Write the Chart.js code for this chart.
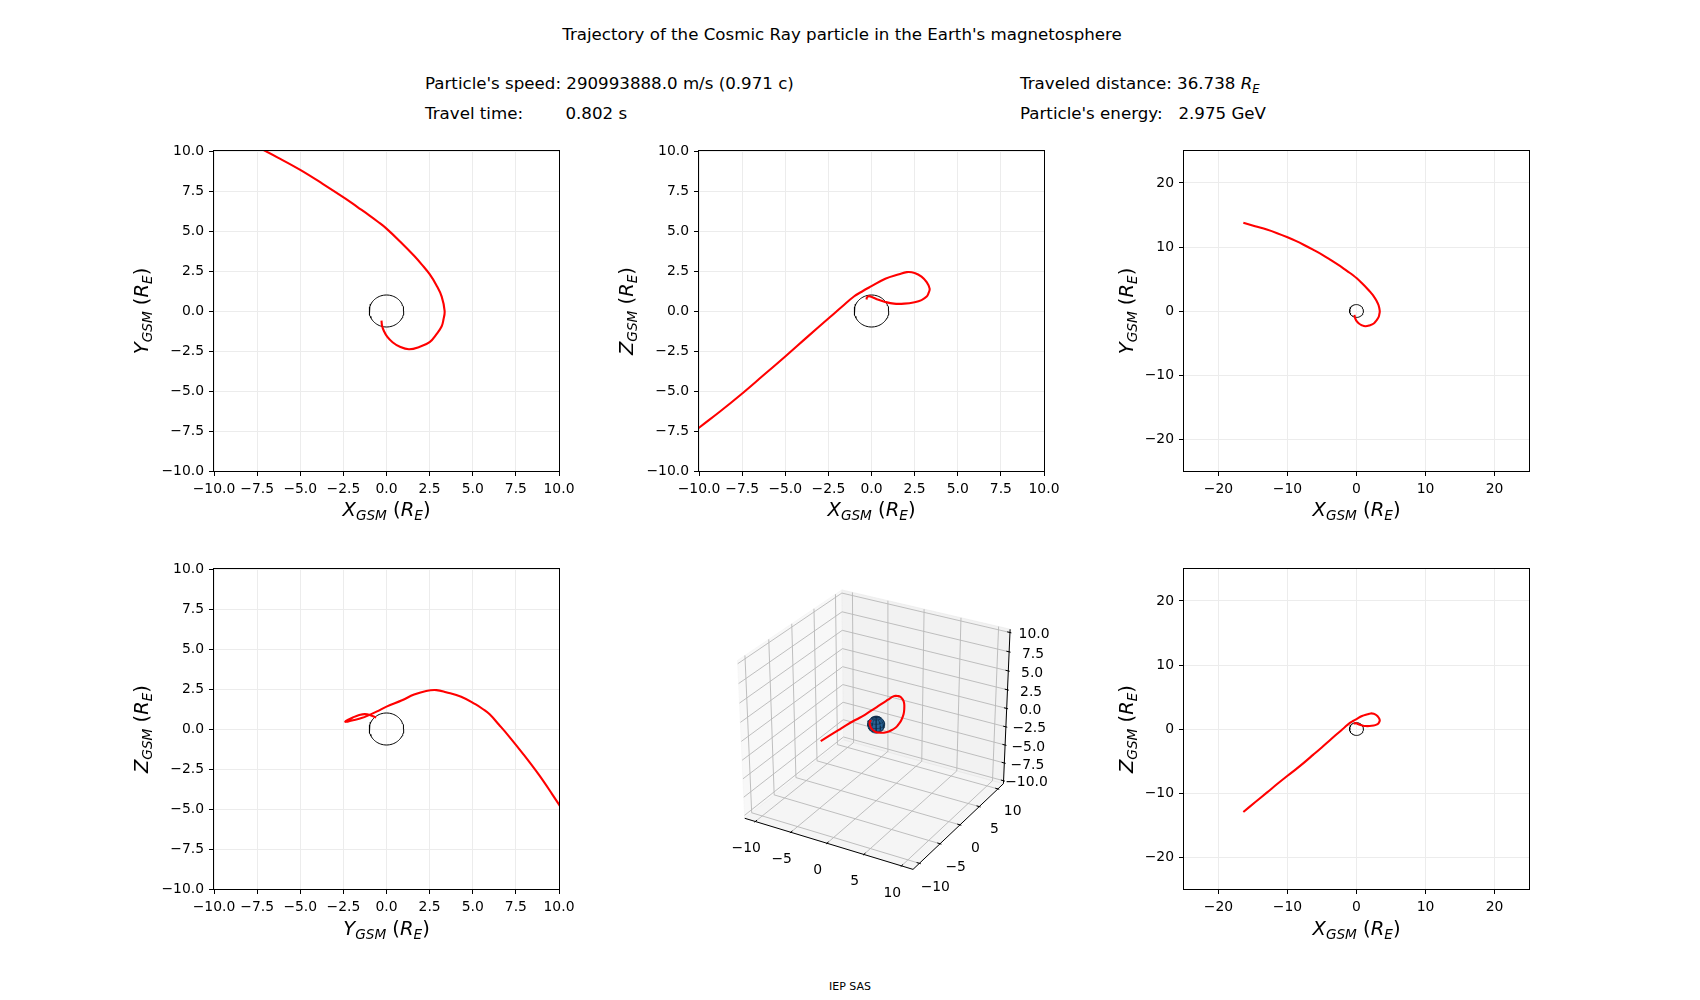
<!DOCTYPE html>
<html><head><meta charset="utf-8">
<script src="https://cdn.jsdelivr.net/npm/chart.js@4/dist/chart.umd.min.js"></script>
<style>
body{margin:0;background:#fff;width:1700px;height:1000px;position:relative;overflow:hidden;font-family:'DejaVu Sans',sans-serif;color:#000;}
canvas{position:absolute;}
.t{position:absolute;white-space:pre;font-size:16.67px;line-height:20px;transform:translateY(-50%);}
.c{position:absolute;white-space:pre;transform:translate(-50%,-50%);}
.lab{position:absolute;white-space:pre;font-size:19.5px;line-height:24px;transform:translate(-50%,-50%);}
.laby{position:absolute;white-space:pre;font-size:19.5px;line-height:24px;transform:translate(-50%,-50%) rotate(-90deg);}
sub{font-size:70%;vertical-align:-0.3em;line-height:0;}
</style></head><body>
<script>
// ---------------- DATA ----------------
const trajX = [-16.4,-14.7,-13.0,-11.5,-10.0,-8.8,-7.6,-6.3,-5.0,-3.7,-2.4,-1.7,-1.0,-0.5,0.0,0.8,1.6,2.05,2.5,2.9,3.2,3.37,3.3,3.2,2.9,2.5,1.9,1.3,0.75,0.35,0.05,-0.15,-0.26,-0.29];
const trajY = [13.8,13.25,12.72,12.16,11.52,10.95,10.32,9.59,8.82,7.95,7.04,6.51,5.98,5.58,5.15,4.33,3.45,2.9,2.3,1.6,0.9,0.0,-0.55,-0.95,-1.45,-1.95,-2.25,-2.39,-2.22,-1.95,-1.62,-1.25,-0.9,-0.6];
const trajZ = [-12.97,-11.45,-9.95,-8.6,-7.3,-6.3,-5.25,-4.05,-2.84,-1.6,-0.38,0.28,0.92,1.25,1.55,2.02,2.3,2.43,2.38,2.15,1.8,1.4,1.1,0.9,0.68,0.55,0.46,0.46,0.58,0.72,0.86,0.93,0.85,0.72];
const EARTH_R = 1;

const ticksNear = [-10,-7.5,-5,-2.5,0,2.5,5,7.5,10];
const labelsNear = ['\u221210.0','\u22127.5','\u22125.0','\u22122.5','0.0','2.5','5.0','7.5','10.0'];
const ticksFar = [-20,-10,0,10,20];
const labelsFar = ['\u221220','\u221210','0','10','20'];
const rangeNear = [-10,10];
const rangeFar = [-25,25];

const ticks3XY = [-10,-5,0,5,10];
const labels3XY = ['\u221210','\u22125','0','5','10'];
const ticks3Z = [-10,-7.5,-5,-2.5,0,2.5,5,7.5,10];
const labels3Z = ['\u221210.0','\u22127.5','\u22125.0','\u22122.5','0.0','2.5','5.0','7.5','10.0'];
const lim3XY = 11.05;
const lim3Z = 10;

const titleText = 'Trajectory of the Cosmic Ray particle in the Earth\'s magnetosphere';
const infoSpeed = 'Particle\'s speed: 290993888.0 m/s (0.971 c)';
const infoTime = 'Travel time:        0.802 s';
const infoDist = 'Traveled distance: 36.738 ';
const infoEnergy = 'Particle\'s energy:   2.975 GeV';
const footer = 'IEP SAS';

// ---------------- HELPERS ----------------
Chart.defaults.font.family = "'DejaVu Sans', sans-serif";
Chart.defaults.color = '#000';
Chart.defaults.animation = false;
const TICK_FONT = 13.9;

function addDiv(cls, html, left, top, extra) {
  const d = document.createElement('div');
  d.className = cls; d.innerHTML = html;
  d.style.left = left + 'px'; d.style.top = top + 'px';
  if (extra) Object.assign(d.style, extra);
  document.body.appendChild(d);
  return d;
}
function gsm(letter) { return '<i>' + letter + '</i><sub><i>GSM</i></sub> (<i>R</i><sub><i>E</i></sub>)'; }

const framePlugin = {
  id: 'frame',
  afterDatasetsDraw(chart) {
    const a = chart.chartArea, c = chart.ctx;
    c.save(); c.strokeStyle = '#000'; c.lineWidth = 1;
    c.strokeRect(a.left - 0.5, a.top - 0.5, a.right - a.left + 1, a.bottom - a.top + 1);
    c.restore();
  }
};

function axis2D(pos, range, vals, labels, fit) {
  return {
    type: 'linear', position: pos, min: range[0], max: range[1],
    afterBuildTicks: s => { s.ticks = vals.map(v => ({ value: v })); },
    afterFit: s => { if (pos === 'bottom') s.height = fit; else s.width = fit; },
    ticks: { autoSkip: false, maxRotation: 0, minRotation: 0, padding: 5,
      font: { size: TICK_FONT }, color: '#000', callback: v => labels[vals.indexOf(v)] },
    grid: { color: '#ececec', lineWidth: 1, tickColor: '#000', tickLength: 5, tickWidth: 1, drawTicks: true },
    border: { display: false }
  };
}

function circlePts() {
  const pts = [];
  for (let a = 0; a <= 360; a += 5) {
    const t = a * Math.PI / 180;
    pts.push({ x: EARTH_R * Math.cos(t), y: EARTH_R * Math.sin(t) });
  }
  return pts;
}

const PADL = 95, PADR = 30, PADT = 15, PADB = 45;
function make2D(box, xs, ys, xr, yr, xt, xl, yt, yl) {
  const W = PADL + (box.R - box.L) + PADR, H = PADT + (box.B - box.T) + PADB;
  const cv = document.createElement('canvas');
  cv.width = W; cv.height = H;
  cv.style.left = (box.L - PADL) + 'px'; cv.style.top = (box.T - PADT) + 'px';
  cv.style.width = W + 'px'; cv.style.height = H + 'px';
  document.body.appendChild(cv);
  const traj = xs.map((v, i) => ({ x: v, y: ys[i] }));
  new Chart(cv, {
    type: 'scatter',
    data: { datasets: [
      { data: traj, showLine: true, borderColor: '#ff0000', borderWidth: 2.1, pointRadius: 0, tension: 0.4, clip: 0, order: 0 },
      { data: circlePts(), showLine: true, borderColor: '#000', borderWidth: 1, pointRadius: 0, tension: 0, clip: 0, order: 1 }
    ]},
    options: {
      responsive: false, devicePixelRatio: 1, events: [],
      layout: { padding: { left: 0, top: PADT, right: PADR, bottom: 0 } },
      plugins: { legend: { display: false }, tooltip: { enabled: false } },
      scales: { x: axis2D('bottom', xr, xt, xl, PADB), y: axis2D('left', yr, yt, yl, PADL) }
    },
    plugins: [framePlugin]
  });
}

// ---------------- LAYOUT ----------------
const colL = [214, 699, 1184], colW = 345;
const rowT = [151, 569], rowH = 320;
function box(c, r) { return { L: colL[c], R: colL[c] + colW, T: rowT[r], B: rowT[r] + rowH }; }

make2D(box(0,0), trajX, trajY, rangeNear, rangeNear, ticksNear, labelsNear, ticksNear, labelsNear);
make2D(box(1,0), trajX, trajZ, rangeNear, rangeNear, ticksNear, labelsNear, ticksNear, labelsNear);
make2D(box(2,0), trajX, trajY, rangeFar, rangeFar, ticksFar, labelsFar, ticksFar, labelsFar);
make2D(box(0,1), trajY, trajZ, rangeNear, rangeNear, ticksNear, labelsNear, ticksNear, labelsNear);
make2D(box(2,1), trajX, trajZ, rangeFar, rangeFar, ticksFar, labelsFar, ticksFar, labelsFar);

// axis labels
const xlabY = [509.5, 928.5];
const ylabX = [142, 627, 1127];
function cx(c) { return colL[c] + colW / 2; }
function cy(r) { return rowT[r] + rowH / 2; }
addDiv('lab', gsm('X'), cx(0), xlabY[0]);
addDiv('laby', gsm('Y'), ylabX[0], cy(0));
addDiv('lab', gsm('X'), cx(1), xlabY[0]);
addDiv('laby', gsm('Z'), ylabX[1], cy(0));
addDiv('lab', gsm('X'), cx(2), xlabY[0]);
addDiv('laby', gsm('Y'), ylabX[2], cy(0));
addDiv('lab', gsm('Y'), cx(0), xlabY[1]);
addDiv('laby', gsm('Z'), ylabX[0], cy(1));
addDiv('lab', gsm('X'), cx(2), xlabY[1]);
addDiv('laby', gsm('Z'), ylabX[2], cy(1));

// texts
addDiv('c', titleText, 842, 33.6, { fontSize: '16.67px' });
addDiv('t', infoSpeed, 425, 83.5);
addDiv('t', infoTime, 425, 113.8);
addDiv('t', infoDist + '<i>R</i><sub><i>E</i></sub>', 1020, 83.5);
addDiv('t', infoEnergy, 1020, 113.8);
addDiv('c', footer, 850, 985.5, { fontSize: '11px' });

// ---------------- 3D ----------------
const ELEV = 30, AZIM = -60, DIST = 10;
const er = ELEV * Math.PI / 180, ar = AZIM * Math.PI / 180;
const nv = [Math.cos(er) * Math.cos(ar), Math.cos(er) * Math.sin(ar), Math.sin(er)];
let uv = [-nv[1], nv[0], 0];
const un = Math.hypot(uv[0], uv[1]); uv = uv.map(v => v / un);
const vv = [nv[1] * uv[2] - nv[2] * uv[1], nv[2] * uv[0] - nv[0] * uv[2], nv[0] * uv[1] - nv[1] * uv[0]];
const dot = (a, b) => a[0] * b[0] + a[1] * b[1] + a[2] * b[2];
function P3(x, y, z) {
  const q = [x / (2 * lim3XY), y / (2 * lim3XY), z / (2 * lim3Z)];
  const w = DIST - dot(nv, q);
  return { x: dot(uv, q) / w, y: dot(vv, q) / w };
}
function poly(list) { return list.map(p => p ? P3(p[0], p[1], p[2]) : { x: null, y: null }); }

const DXY = 2 * lim3XY / 12, DZ = 2 * lim3Z / 12;   // mpl deltas
const PX = lim3XY + DXY / 4, PZ = lim3Z + DZ / 4;    // pane extents
const LXY = 1.147 * DXY, LZ = 1.147 * DZ;            // tick label offsets

const paneX = poly([[-PX,-PX,-PZ],[-PX,PX,-PZ],[-PX,PX,PZ],[-PX,-PX,PZ],[-PX,-PX,-PZ]]);
const paneY = poly([[-PX,PX,-PZ],[PX,PX,-PZ],[PX,PX,PZ],[-PX,PX,PZ],[-PX,PX,-PZ]]);
const paneZ = poly([[-PX,-PX,-PZ],[PX,-PX,-PZ],[PX,PX,-PZ],[-PX,PX,-PZ],[-PX,-PX,-PZ]]);

const gridList = [];
ticks3XY.forEach(t => { gridList.push([t,-PX,-PZ],[t,PX,-PZ],[t,PX,PZ],null); });
ticks3XY.forEach(t => { gridList.push([PX,t,-PZ],[-PX,t,-PZ],[-PX,t,PZ],null); });
ticks3Z.forEach(t => { gridList.push([-PX,-PX,t],[-PX,PX,t],[PX,PX,t],null); });
const grid3 = poly(gridList);

const axList = [[-PX,-PX,-PZ],[PX,-PX,-PZ],[PX,PX,-PZ],null,[PX,PX,-PZ],[PX,PX,PZ],null];
ticks3XY.forEach(t => { axList.push([t,-PX-0.1*DXY,-PZ],[t,-PX+0.2*DXY,-PZ],null); });
ticks3XY.forEach(t => { axList.push([PX+0.1*DXY,t,-PZ],[PX-0.2*DXY,t,-PZ],null); });
ticks3Z.forEach(t => { axList.push([PX+0.1*DXY,PX,t],[PX-0.2*DXY,PX,t],null); });
const axes3 = poly(axList);

// sphere (Earth)
const sil = [];
for (let a = 0; a <= 360; a += 10) {
  const t = a * Math.PI / 180, c = Math.cos(t), s = Math.sin(t);
  sil.push([EARTH_R * (c * uv[0] + s * vv[0]), EARTH_R * (c * uv[1] + s * vv[1]), EARTH_R * (c * uv[2] + s * vv[2])]);
}
const sphereSil = poly(sil);
const meshList = [];
function vis(p) { return dot(p, nv) >= 0; }
for (let ph = 0; ph < 360; ph += 30) {
  for (let th = 0; th <= 180; th += 15) {
    const f = ph * Math.PI / 180, t = th * Math.PI / 180;
    const p = [EARTH_R * Math.sin(t) * Math.cos(f), EARTH_R * Math.sin(t) * Math.sin(f), EARTH_R * Math.cos(t)];
    meshList.push(vis(p) ? p : null);
  }
  meshList.push(null);
}
for (let th = 30; th < 180; th += 30) {
  for (let ph = 0; ph <= 360; ph += 15) {
    const f = ph * Math.PI / 180, t = th * Math.PI / 180;
    const p = [EARTH_R * Math.sin(t) * Math.cos(f), EARTH_R * Math.sin(t) * Math.sin(f), EARTH_R * Math.cos(t)];
    meshList.push(vis(p) ? p : null);
  }
  meshList.push(null);
}
const sphereMesh = poly(meshList);
const traj3 = trajX.map((v, i) => P3(v, trajY[i], trajZ[i]));

const labels3Plugin = {
  id: 'labels3',
  afterDatasetsDraw(chart) {
    const c = chart.ctx, sx = chart.scales.x, sy = chart.scales.y;
    c.save(); c.fillStyle = '#000'; c.font = TICK_FONT + "px 'DejaVu Sans'"; c.textAlign = 'center'; c.textBaseline = 'top';
    const put = (txt, p) => c.fillText(txt, sx.getPixelForValue(p.x), sy.getPixelForValue(p.y) - 2);
    ticks3XY.forEach((t, i) => put(labels3XY[i], P3(t, -PX - LXY, -PZ - LZ)));
    ticks3XY.forEach((t, i) => put(labels3XY[i], P3(PX + LXY, t, -PZ - LZ)));
    ticks3Z.forEach((t, i) => put(labels3Z[i], P3(PX + LXY, PX + LXY, t)));
    c.restore();
  }
};

(function make3D() {
  const b = box(1, 1);
  const CL = 640, CT = 530, CW = 460, CH = 420;
  const cv = document.createElement('canvas');
  cv.width = CW; cv.height = CH;
  cv.style.left = CL + 'px'; cv.style.top = CT + 'px';
  cv.style.width = CW + 'px'; cv.style.height = CH + 'px';
  document.body.appendChild(cv);
  const base = { showLine: true, pointRadius: 0, clip: false, spanGaps: false };
  new Chart(cv, {
    type: 'scatter',
    data: { datasets: [
      Object.assign({ data: traj3, borderColor: '#ff0000', borderWidth: 2.1, tension: 0.4, order: 0 }, base),
      Object.assign({ data: sphereMesh, borderColor: '#0e2a45', borderWidth: 0.6, tension: 0, order: 1 }, base),
      Object.assign({ data: sphereSil, borderColor: '#12395c', backgroundColor: '#2a6598', fill: 'shape', borderWidth: 0.8, tension: 0, order: 2 }, base),
      Object.assign({ data: axes3, borderColor: '#000', borderWidth: 1, tension: 0, order: 3 }, base),
      Object.assign({ data: grid3, borderColor: '#b8b8b8', borderWidth: 0.9, tension: 0, order: 4 }, base),
      Object.assign({ data: paneX, borderColor: 'rgba(242,242,242,0.5)', backgroundColor: 'rgba(242,242,242,0.5)', fill: 'shape', borderWidth: 1, tension: 0, order: 5 }, base),
      Object.assign({ data: paneY, borderColor: 'rgba(230,230,230,0.5)', backgroundColor: 'rgba(230,230,230,0.5)', fill: 'shape', borderWidth: 1, tension: 0, order: 6 }, base),
      Object.assign({ data: paneZ, borderColor: 'rgba(236,236,236,0.5)', backgroundColor: 'rgba(236,236,236,0.5)', fill: 'shape', borderWidth: 1, tension: 0, order: 7 }, base)
    ]},
    options: {
      responsive: false, devicePixelRatio: 1, events: [],
      layout: { padding: { left: b.L - CL, top: b.T - CT, right: CL + CW - b.R, bottom: CT + CH - b.B } },
      plugins: { legend: { display: false }, tooltip: { enabled: false } },
      scales: {
        x: { type: 'linear', display: false, min: -0.095, max: 0.09 },
        y: { type: 'linear', display: false, min: -0.095, max: 0.09 }
      }
    },
    plugins: [labels3Plugin]
  });
})();
</script>
</body></html>
